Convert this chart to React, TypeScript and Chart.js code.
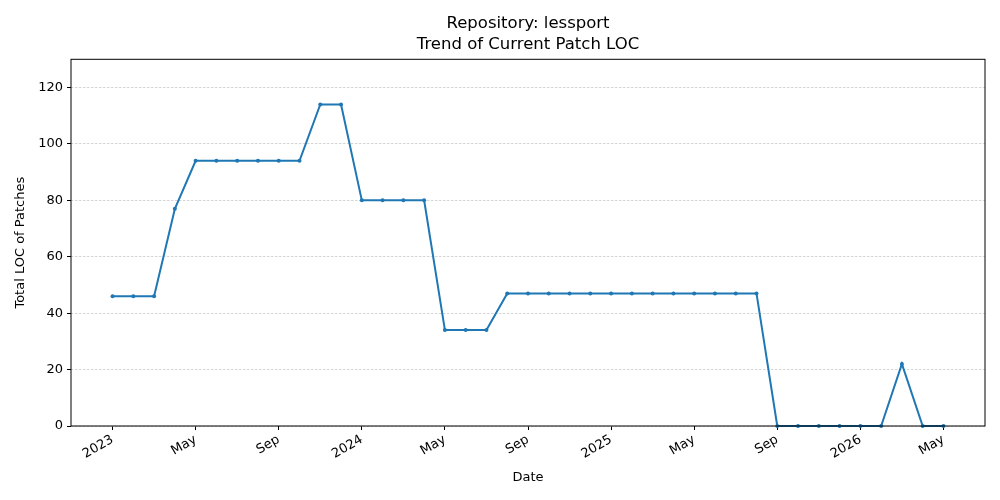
import { useEffect, useRef } from 'react';
import { Chart, registerables } from 'chart.js';

Chart.register(...registerables);

// one point per month, Jan 2023 .. May 2026
const months = [
  '2023-01', '2023-02', '2023-03', '2023-04', '2023-05', '2023-06', '2023-07', '2023-08',
  '2023-09', '2023-10', '2023-11', '2023-12', '2024-01', '2024-02', '2024-03', '2024-04',
  '2024-05', '2024-06', '2024-07', '2024-08', '2024-09', '2024-10', '2024-11', '2024-12',
  '2025-01', '2025-02', '2025-03', '2025-04', '2025-05', '2025-06', '2025-07', '2025-08',
  '2025-09', '2025-10', '2025-11', '2025-12', '2026-01', '2026-02', '2026-03', '2026-04',
  '2026-05',
];
const patchLoc = [
  46, 46, 46, 77, 94, 94, 94, 94,
  94, 94, 114, 114, 80, 80, 80, 80,
  34, 34, 34, 47, 47, 47, 47, 47,
  47, 47, 47, 47, 47, 47, 47, 47,
  0, 0, 0, 0, 0, 0, 22, 0,
  0,
];
const xTickMonths = ['2023-01', '2023-05', '2023-09', '2024-01', '2024-05', '2024-09', '2025-01', '2025-05', '2025-09', '2026-01', '2026-05'];
const xTickLabels = ['2023', 'May', 'Sep', '2024', 'May', 'Sep', '2025', 'May', 'Sep', '2026', 'May'];
const yTicks = [0, 20, 40, 60, 80, 100, 120];

const FONT = 'DejaVu Sans';

const monthIndex = (m: string) => {
  const [y, mo] = m.split('-').map(Number);
  return (y - 2023) * 12 + (mo - 1);
};

// draws the full box around the plot area, like matplotlib's spines
const framePlugin = {
  id: 'frame',
  afterDatasetsDraw(chart: any) {
    const { ctx, chartArea: a } = chart;
    ctx.save();
    ctx.strokeStyle = '#000';
    ctx.lineWidth = 1;
    ctx.strokeRect(a.left, a.top, a.right - a.left, a.bottom - a.top);
    ctx.restore();
  },
};

const App = () => {
  const canvasRef = useRef<HTMLCanvasElement | null>(null);
  const chartRef = useRef<Chart | null>(null);

  useEffect(() => {
    if (!canvasRef.current) return;
    const ctx = canvasRef.current.getContext('2d');
    if (!ctx) return;
    if (chartRef.current) chartRef.current.destroy();

    const tickPos = xTickMonths.map(monthIndex);

    chartRef.current = new Chart(ctx, {
      type: 'line',
      data: {
        datasets: [{
          data: months.map((m, i) => ({ x: monthIndex(m), y: patchLoc[i] })),
          borderColor: '#1f77b4',
          backgroundColor: '#1f77b4',
          borderWidth: 2,
          pointRadius: 2,
          pointBorderWidth: 0,
          pointBackgroundColor: '#1f77b4',
          tension: 0,
          clip: false as any,
        }],
      },
      options: {
        responsive: false,
        maintainAspectRatio: false,
        animation: false,
        layout: { padding: { left: 0, right: 15, top: 0, bottom: 0 } },
        plugins: {
          legend: { display: false },
          tooltip: { enabled: false },
          title: {
            display: true,
            text: ['Repository: lessport', 'Trend of Current Patch LOC'],
            color: '#000',
            fullSize: false,
            font: { family: FONT, size: 16.5, weight: 'normal', lineHeight: 1.3 },
            padding: { top: 12.6, bottom: 3.8 },
          },
        },
        scales: {
          x: {
            type: 'linear',
            min: -2,
            max: 42,
            afterBuildTicks: (s: any) => { s.ticks = tickPos.map((v) => ({ value: v })); },
            afterFit: (s: any) => { s.height = 74; },
            ticks: {
              color: '#000',
              font: { family: FONT, size: 13 },
              minRotation: 30,
              maxRotation: 30,
              padding: 2,
              callback: (v: any) => {
                const k = tickPos.indexOf(Number(v));
                return k >= 0 ? xTickLabels[k] : '';
              },
            },
            grid: { color: 'rgba(0,0,0,0)', tickColor: '#000', tickLength: 4, lineWidth: 1 },
            border: { display: false },
            title: { display: true, text: 'Date', color: '#000', font: { family: FONT, size: 13 }, padding: { top: 0, bottom: 15 } },
          },
          y: {
            min: 0,
            max: 130,
            afterBuildTicks: (s: any) => { s.ticks = yTicks.map((v) => ({ value: v })); },
            afterFit: (s: any) => { s.width = 71; },
            ticks: { color: '#000', font: { family: FONT, size: 13 }, padding: 4 },
            grid: { color: '#b8b8b8', lineWidth: 0.6, tickColor: '#000', tickLength: 4, tickBorderDash: [] as any, tickWidth: 1 },
            border: { display: false, dash: [2.5, 1.5] },
            title: { display: true, text: 'Total LOC of Patches', color: '#000', font: { family: FONT, size: 13 }, padding: { top: 13, bottom: 4 } },
          },
        },
      },
      plugins: [framePlugin],
    });

    return () => {
      if (chartRef.current) {
        chartRef.current.destroy();
        chartRef.current = null;
      }
    };
  }, []);

  return (
    <div style={{ position: 'absolute', left: 0, top: 0, width: 1000, height: 500, background: '#fff' }}>
      <canvas ref={canvasRef} width={1000} height={500} style={{ width: 1000, height: 500 }}></canvas>
    </div>
  );
};

export default App;
